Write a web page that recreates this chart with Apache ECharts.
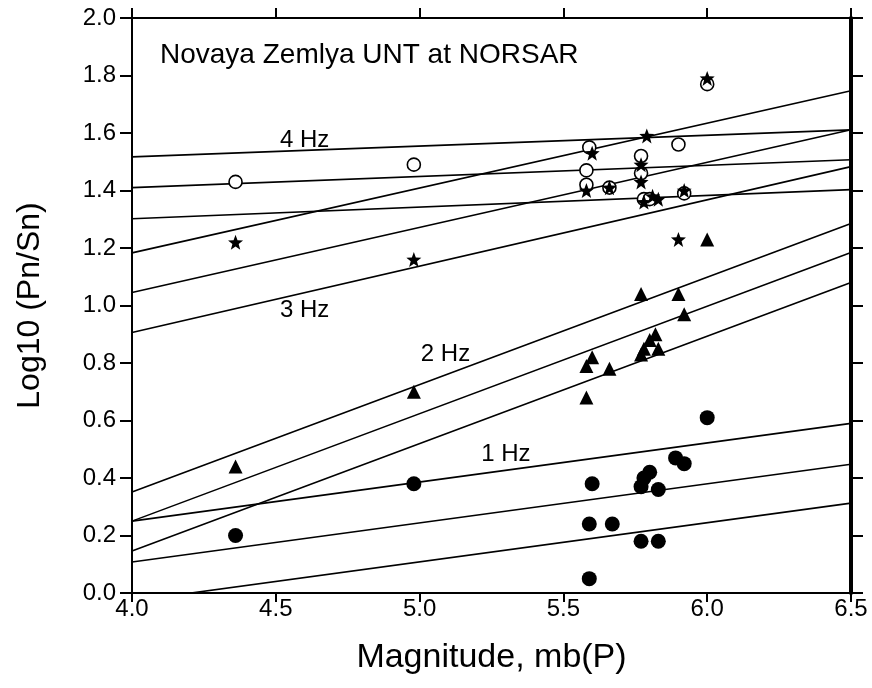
<!DOCTYPE html>
<html>
<head>
<meta charset="utf-8">
<script src="https://cdn.jsdelivr.net/npm/echarts@6/dist/echarts.min.js"></script>
<style>
html,body{margin:0;padding:0;background:#fff;}
#chart{width:872px;height:688px;}
</style>
</head>
<body>
<div id="chart"></div>
<script>
// ---- data ----
const xTicks = [4.0, 4.5, 5.0, 5.5, 6.0, 6.5];
const yTicks = [0.0, 0.2, 0.4, 0.6, 0.8, 1.0, 1.2, 1.4, 1.6, 1.8, 2.0];

// 4 Hz: open circles
const hz4Points = [[4.36,1.43],[4.98,1.49],[5.59,1.55],[5.58,1.47],[5.58,1.42],[5.66,1.41],[5.77,1.52],[5.77,1.46],[5.78,1.37],[5.80,1.37],[5.90,1.56],[5.92,1.39],[6.00,1.77]];
// 3 Hz: stars
const hz3Points = [[4.36,1.22],[4.98,1.16],[5.60,1.53],[5.58,1.40],[5.66,1.41],[5.77,1.49],[5.77,1.43],[5.79,1.59],[5.78,1.36],[5.81,1.38],[5.83,1.37],[5.90,1.23],[5.92,1.40],[6.00,1.79]];
// 2 Hz: filled triangles
const hz2Points = [[4.36,0.44],[4.98,0.70],[5.58,0.68],[5.58,0.79],[5.60,0.82],[5.66,0.78],[5.77,1.04],[5.77,0.83],[5.78,0.85],[5.80,0.88],[5.82,0.90],[5.83,0.85],[5.90,1.04],[5.92,0.97],[6.00,1.23]];
// 1 Hz: filled circles
const hz1Points = [[4.36,0.20],[4.98,0.38],[5.59,0.05],[5.59,0.24],[5.60,0.38],[5.67,0.24],[5.77,0.37],[5.78,0.40],[5.80,0.42],[5.83,0.36],[5.77,0.18],[5.83,0.18],[5.89,0.47],[5.92,0.45],[6.00,0.61]];

// regression lines (value at x=4.0, value at x=6.5)
const lineX = [4.0, 6.5];
const hz4Lines = [[1.517,1.611],[1.41,1.507],[1.302,1.403]];
const hz3Lines = [[1.183,1.747],[1.045,1.611],[0.906,1.483]];
const hz2Lines = [[0.351,1.285],[0.25,1.184],[0.146,1.08]];
const hz1Lines = [[0.25,0.59],[0.108,0.448],[-0.028,0.3125]];

// line labels
const hzLabels = [[4.60,1.576,'4 Hz'],[4.60,0.983,'3 Hz'],[5.09,0.83,'2 Hz'],[5.30,0.483,'1 Hz']];
const titleText = 'Novaya Zemlya UNT at NORSAR';

// ---- chart ----
const FONT = '"Liberation Sans", Arial, Helvetica, sans-serif';
const STAR = 'path://M12,1 L14.9,8.6 L23,8.9 L16.6,14 L18.9,21.9 L12,17.3 L5.1,21.9 L7.4,14 L1,8.9 L9.1,8.6 Z';

const series = [];
[hz4Lines, hz3Lines, hz2Lines, hz1Lines].forEach(group => {
  group.forEach(v => {
    series.push({
      type: 'line', data: [[lineX[0], v[0]], [lineX[1], v[1]]],
      symbol: 'none', clip: true, silent: true,
      lineStyle: {color: '#000', width: 1.6}, z: 2
    });
  });
});
series.push({type:'scatter', data: hz4Points, symbol:'circle', symbolSize: 13,
  itemStyle:{color:'#fff', borderColor:'#000', borderWidth:1.6, opacity:1}, z:3});
series.push({type:'scatter', data: hz3Points, symbol: STAR, symbolSize: 15,
  itemStyle:{color:'#000', opacity:1}, z:4});
series.push({type:'scatter', data: hz2Points, symbol:'triangle', symbolSize: 14,
  itemStyle:{color:'#000', opacity:1}, z:4});
series.push({type:'scatter', data: hz1Points, symbol:'circle', symbolSize: 15,
  itemStyle:{color:'#000', opacity:1}, z:4});
series.push({type:'scatter', data: hzLabels.map(d => ({value:[d[0], d[1]], name:d[2]})),
  symbolSize: 0, silent: true, z: 5, itemStyle:{opacity:1},
  label:{show:true, position:'inside', formatter: p => p.name, color:'#000', opacity:1,
    fontFamily: FONT, fontSize: 24}});

const chart = echarts.init(document.getElementById('chart'), null, {renderer:'canvas'});
chart.setOption({
  animation: false,
  backgroundColor: '#fff',
  title: {text: titleText, left: 155, top: 36,
    textStyle:{fontFamily: FONT, fontSize: 28, fontWeight:'normal', color:'#000'}},
  grid: {left: 132, right: 21, top: 18, bottom: 95, containLabel: false},
  xAxis: [{
    type:'value', min: xTicks[0], max: xTicks[xTicks.length-1], interval: 0.5,
    name: 'Magnitude, mb(P)', nameLocation:'middle', nameGap: 48,
    nameTextStyle:{fontFamily: FONT, fontSize: 34, color:'#000'},
    axisLine:{show:true, onZero:false, lineStyle:{color:'#000', width:2}},
    axisTick:{show:true, inside:false, length:9, lineStyle:{color:'#000', width:2}},
    axisLabel:{margin: 4, fontFamily: FONT, fontSize: 24, color:'#000', formatter: v => v.toFixed(1)},
    splitLine:{show:false}
  },{
    type:'value', position:'top', min: xTicks[0], max: xTicks[xTicks.length-1], interval: 0.5,
    axisLine:{show:true, onZero:false, lineStyle:{color:'#000', width:2}},
    axisTick:{show:true, inside:false, length:10, lineStyle:{color:'#000', width:2}},
    axisLabel:{show:false}, splitLine:{show:false}
  }],
  yAxis: [{
    type:'value', min: yTicks[0], max: yTicks[yTicks.length-1], interval: 0.2,
    name: 'Log10 (Pn/Sn)', nameLocation:'middle', nameGap: 86,
    nameTextStyle:{fontFamily: FONT, fontSize: 32, color:'#000'},
    axisLine:{show:true, onZero:false, lineStyle:{color:'#000', width:2}},
    axisTick:{show:true, inside:false, length:12, lineStyle:{color:'#000', width:2}},
    axisLabel:{margin: 16, fontFamily: FONT, fontSize: 24, color:'#000', formatter: v => v.toFixed(1)},
    splitLine:{show:false}
  },{
    type:'value', position:'right', min: yTicks[0], max: yTicks[yTicks.length-1], interval: 0.2,
    axisLine:{show:true, onZero:false, lineStyle:{color:'#000', width:4}},
    axisTick:{show:true, inside:false, length:12, lineStyle:{color:'#000', width:2}},
    axisLabel:{show:false}, splitLine:{show:false}
  }],
  series: series
});
</script>
</body>
</html>
